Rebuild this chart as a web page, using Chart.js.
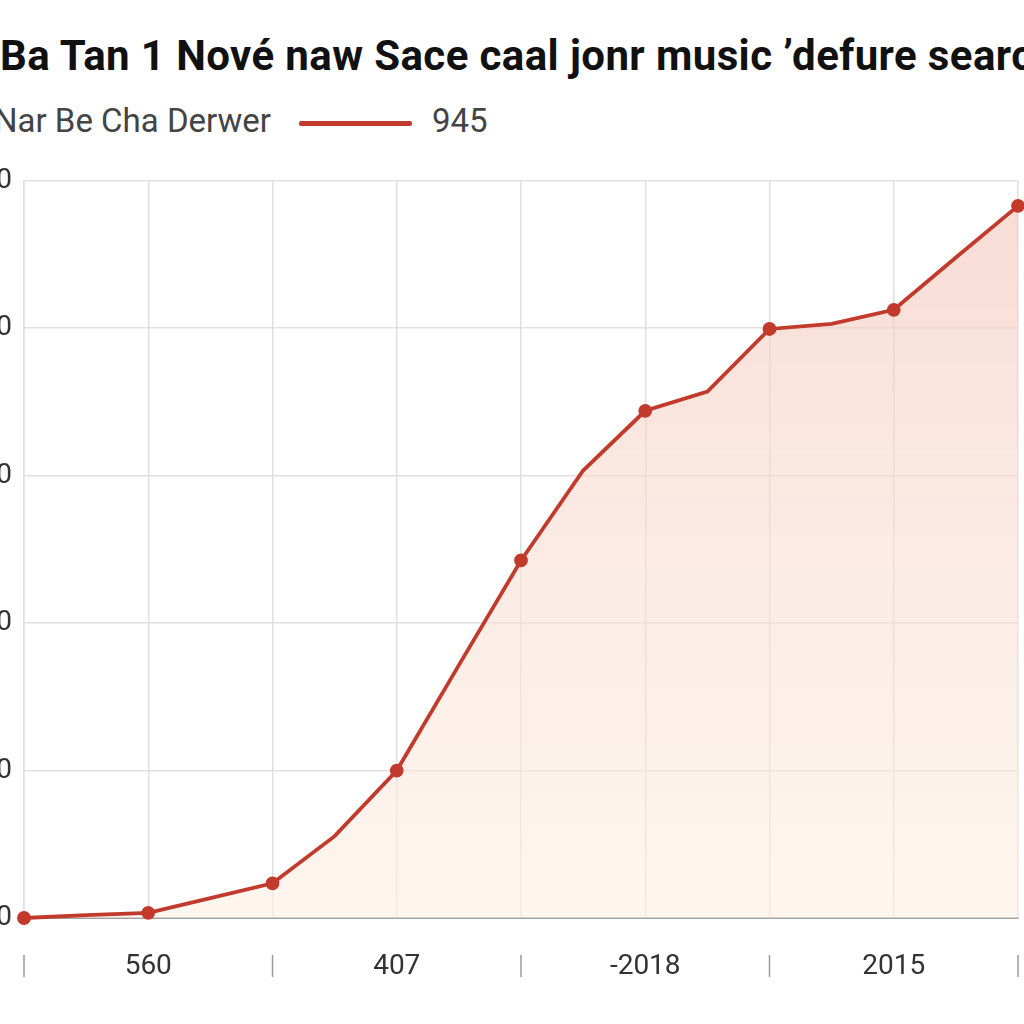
<!DOCTYPE html>
<html lang="en">
<head>
    <meta charset="UTF-8">
    <title>Music search chart</title>
    <script src="https://cdn.jsdelivr.net/npm/chart.js"></script>
    <style>
        html, body { margin: 0; padding: 0; background: #fff; }
        body { width: 1024px; height: 1024px; overflow: hidden; position: relative; font-family: Roboto, sans-serif; }
        .title { position: absolute; left: 0px; top: 31px; white-space: nowrap; font-weight: 700; font-size: 42px; letter-spacing: 0.4px; color: #111; }
        .legend { position: absolute; left: -6px; top: 101px; white-space: nowrap; font-size: 33px; color: #444; }
        .legend .swatch { display: inline-block; width: 113px; height: 5px; background: #c23a2b; vertical-align: middle; margin: 0 20px 0 28px; border-radius: 2px; }
        #chartWrap { position: absolute; left: -36px; top: 152px; }
    </style>
</head>
<body>
    <div class="title">Ba Tan 1 Nové naw Sace caal jonr music ʼdefure search</div>
    <div class="legend">Nar Be Cha Derwer<span class="swatch"></span>945</div>
    <div id="chartWrap"><canvas id="lineChart" width="1086" height="868"></canvas></div>

    <script>
        // data
        const categories = ['', '', '560', '', '', '', '407', '', '', '', '-2018', '', '', '', '2015', '', ''];
        const seriesValues = [0, 4, 7, 27, 47, 111, 200, 343, 485, 607, 688, 714, 799, 806, 825, 896, 966];
        const yTicks = [0, 200, 400, 600, 800, 1000];
        const seriesName = 'Nar Be Cha Derwer';

        const lineColor = '#c23a2b';

        // short separators under the x axis, every fourth category
        const separators = {
            id: 'separators',
            afterDraw(chart) {
                const x = chart.scales.x;
                const ctx = chart.ctx;
                const top = chart.chartArea.bottom + 37;
                ctx.save();
                ctx.strokeStyle = '#9a9a9a';
                ctx.lineWidth = 1.5;
                categories.forEach((c, i) => {
                    if (i % 4 !== 0) return;
                    let px = x.getPixelForValue(i);
                    ctx.beginPath();
                    ctx.moveTo(px, top);
                    ctx.lineTo(px, top + 22);
                    ctx.stroke();
                });
                ctx.restore();
            }
        };

        new Chart(document.getElementById('lineChart'), {
            type: 'line',
            data: {
                labels: categories,
                datasets: [{
                    label: seriesName,
                    data: seriesValues,
                    borderColor: lineColor,
                    borderWidth: 3.8,
                    pointRadius: ctx => ctx.dataIndex % 2 === 0 ? 5 : 0,
                    pointBackgroundColor: lineColor,
                    pointBorderColor: lineColor,
                    tension: 0,
                    clip: false,
                    fill: 'origin',
                    backgroundColor: ctx => {
                        const area = ctx.chart.chartArea;
                        if (!area) return 'rgba(245,210,200,0.5)';
                        const g = ctx.chart.ctx.createLinearGradient(0, area.top, 0, area.bottom);
                        g.addColorStop(0, 'rgba(244,200,188,0.65)');
                        g.addColorStop(0.5, 'rgba(248,222,210,0.6)');
                        g.addColorStop(1, 'rgba(252,240,228,0.6)');
                        return g;
                    }
                }]
            },
            options: {
                responsive: false,
                animation: false,
                layout: { padding: { top: 12, right: 0, left: 0, bottom: 0 } },
                plugins: {
                    legend: { display: false },
                    title: { display: false },
                    tooltip: { enabled: false }
                },
                scales: {
                    x: {
                        offset: false,
                        afterFit: s => { s.height = 102; },
                        grid: {
                            drawTicks: false,
                            color: ctx => ctx.index % 2 === 0 ? '#e0e0e0' : 'rgba(0,0,0,0)',
                            lineWidth: 1.5
                        },
                        border: { display: true, color: '#a0a0a0', width: 2 },
                        ticks: {
                            autoSkip: false,
                            maxRotation: 0,
                            padding: 32,
                            color: '#333',
                            font: { family: 'Roboto', size: 28 }
                        }
                    },
                    y: {
                        min: yTicks[0],
                        max: yTicks[yTicks.length - 1],
                        afterFit: s => { s.width = 60; },
                        afterBuildTicks: s => { s.ticks = yTicks.map(v => ({ value: v })); },
                        grid: { drawTicks: false, color: '#e0e0e0', lineWidth: 1.5 },
                        border: { display: true, color: '#e0e0e0', width: 1.5 },
                        ticks: {
                            padding: 12,
                            color: '#333',
                            font: { family: 'Roboto', size: 28 }
                        }
                    }
                }
            },
            plugins: [separators]
        });
    </script>
</body>
</html>
